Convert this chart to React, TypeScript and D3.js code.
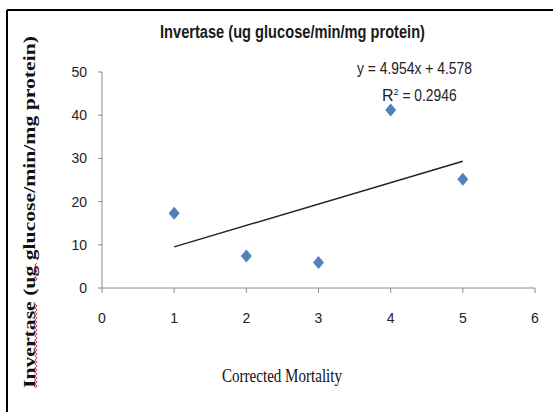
import * as d3 from "d3"

const W = 553
const H = 412

const mortality = [1, 2, 3, 4, 5]
const invertase = [17.3, 7.4, 5.9, 41.2, 25.2]
const xTicks = [0, 1, 2, 3, 4, 5, 6]
const yTicks = [0, 10, 20, 30, 40, 50]
const slope = 4.954
const intercept = 4.578

const SANS = "'Liberation Sans', 'Open Sans', sans-serif"
const SERIF = "'Liberation Serif', 'DejaVu Serif', serif"
const AXIS = "#8c8c8c"

export default function App() {
  const x = d3.scaleLinear().domain([0, 6]).range([102, 535])
  const y = d3.scaleLinear().domain([0, 50]).range([288, 72])

  const trend = d3
    .line<number>()
    .x((d) => x(d))
    .y((d) => y(slope * d + intercept))([1, 5])

  // red spell-check squiggle under "Invertase" and "ug"
  const squiggle = (y0: number, y1: number, cx: number) => {
    const pts: [number, number][] = []
    for (let yy = y0, i = 0; yy >= y1; yy -= 2, i++) pts.push([cx + (i % 2 ? 1.2 : -1.2), yy])
    return d3.line()(pts) ?? undefined
  }

  return (
    <svg
      width={W}
      height={H}
      style={{ position: "fixed", left: 0, top: 0, background: "#fff" }}
    >
      <rect width={W} height={H} fill="#fff" />
      {/* frame (top + left only visible) */}
      <line x1={7} x2={W} y1={10} y2={10} stroke="#000" strokeWidth={2} />
      <line x1={7} x2={7} y1={10} y2={H} stroke="#000" strokeWidth={2} />

      <text
        x={160}
        y={38}
        textLength={265}
        lengthAdjust="spacingAndGlyphs"
        fontFamily={SANS}
        fontWeight={700}
        fontSize={18}
        fill="#1a1a1a"
      >
        Invertase (ug glucose/min/mg protein)
      </text>

      {/* axes */}
      <line x1={x(0)} x2={x(0)} y1={y(50)} y2={y(0)} stroke={AXIS} />
      <line x1={x(0)} x2={x(6)} y1={y(0)} y2={y(0)} stroke={AXIS} />
      {yTicks.map((t) => (
        <g key={`y${t}`}>
          <line x1={x(0) - 4} x2={x(0)} y1={y(t)} y2={y(t)} stroke={AXIS} />
          <text
            x={x(0) - 15}
            y={y(t) + 5}
            textAnchor="end"
            fontFamily={SANS}
            fontSize={14}
            fill="#222"
          >
            {t}
          </text>
        </g>
      ))}
      {xTicks.map((t) => (
        <g key={`x${t}`}>
          <line x1={x(t)} x2={x(t)} y1={y(0)} y2={y(0) + 5} stroke={AXIS} />
          <text
            x={x(t)}
            y={y(0) + 35}
            textAnchor="middle"
            fontFamily={SANS}
            fontSize={14}
            fill="#222"
          >
            {t}
          </text>
        </g>
      ))}

      {/* trendline */}
      <path d={trend ?? undefined} stroke="#222" strokeWidth={1.4} fill="none" />

      {/* points */}
      {mortality.map((m, i) => (
        <path
          key={m}
          transform={`translate(${x(m)},${y(invertase[i])})`}
          d="M0,-6.5L5.5,0L0,6.5L-5.5,0Z"
          fill="#4F81BD"
        />
      ))}

      <text
        x={357}
        y={74}
        textLength={115}
        lengthAdjust="spacingAndGlyphs"
        fontFamily={SANS}
        fontSize={16}
        fill="#222"
      >
        y = 4.954x + 4.578
      </text>
      <text x={382} y={101} fontFamily={SANS} fontSize={16} fill="#222">
        R<tspan dy={-6} fontSize={9}>2</tspan>
        <tspan dy={6} textLength={58} lengthAdjust="spacingAndGlyphs"> = 0.2946</tspan>
      </text>

      <text
        x={222}
        y={382}
        textLength={120}
        lengthAdjust="spacingAndGlyphs"
        fontFamily={SERIF}
        fontSize={18}
        fill="#111"
      >
        Corrected Mortality
      </text>

      <text
        transform="translate(35,388) rotate(-90)"
        textLength={352}
        lengthAdjust="spacingAndGlyphs"
        fontFamily={SERIF}
        fontWeight={700}
        fontSize={17}
        fill="#111"
      >
        Invertase (ug glucose/min/mg protein)
      </text>
      <path d={squiggle(388, 304, 36)} stroke="#e02020" strokeWidth={0.9} fill="none" />
      <path d={squiggle(281, 263, 36)} stroke="#e02020" strokeWidth={0.9} fill="none" />
    </svg>
  )
}
